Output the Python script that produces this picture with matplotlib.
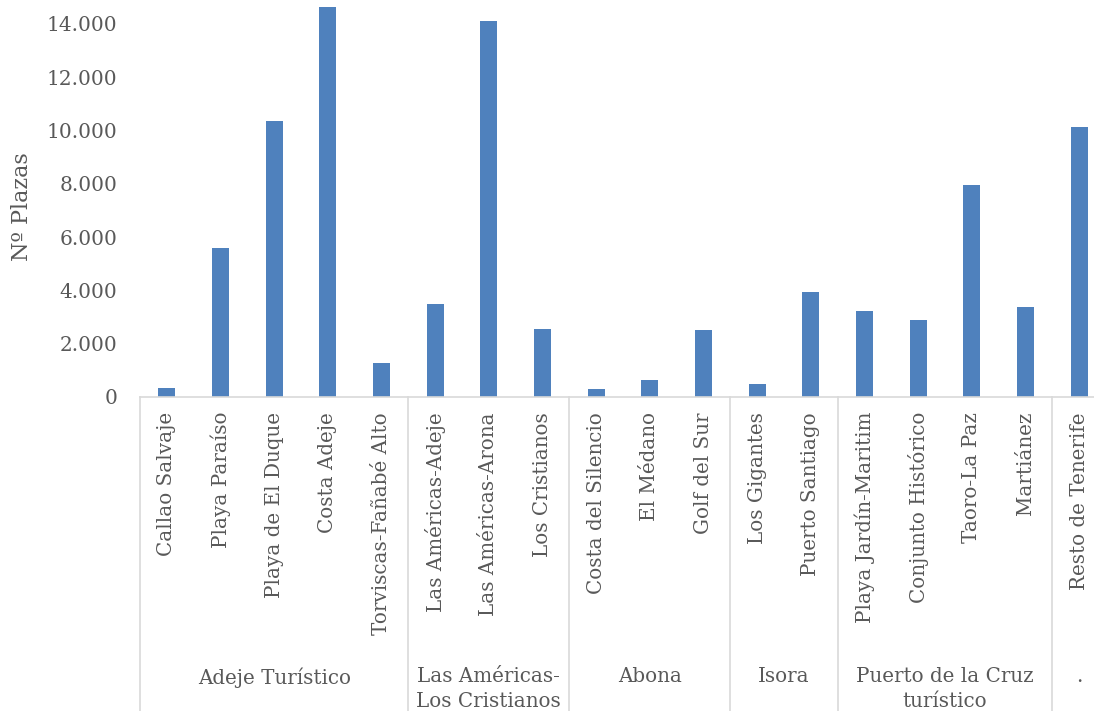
import matplotlib
matplotlib.use("Agg")
import matplotlib.pyplot as plt
from matplotlib.ticker import FuncFormatter
import matplotlib.transforms as mtransforms

plt.rcParams['font.family'] = ['DejaVu Serif']

# zonas y plazas
zonas = ['Callao Salvaje', 'Playa Paraíso', 'Playa de El Duque', 'Costa Adeje',
         'Torviscas-Fañabé Alto', 'Las Américas-Adeje', 'Las Américas-Arona',
         'Los Cristianos', 'Costa del Silencio', 'El Médano', 'Golf del Sur',
         'Los Gigantes', 'Puerto Santiago', 'Playa Jardín-Maritim',
         'Conjunto Histórico', 'Taoro-La Paz', 'Martiánez', 'Resto de Tenerife']
plazas = [350, 5600, 10360, 14630, 1290, 3480, 14110, 2540, 310, 640, 2500,
          490, 3940, 3230, 2900, 7950, 3370, 10150]

grupos = ['Adeje Turístico', 'Las Américas-\nLos Cristianos', 'Abona', 'Isora',
          'Puerto de la Cruz\nturístico', '.']
n_por_grupo = [5, 3, 3, 2, 4, 1]

gris = '#595959'
linea = '#d9d9d9'

fig = plt.figure(figsize=(10.94, 7.11), dpi=100)
W, H = 1094, 711
ax = fig.add_axes([140 / W, (H - 397) / H, 966 / W, 397 / H])

x = list(range(len(zonas)))
ax.bar(x, plazas, width=0.32, color='#4f81bd', edgecolor='none')

ax.set_xlim(-0.5, len(zonas) - 0.5)
ax.set_ylim(0, 14900)
ax.set_yticks(range(0, 14001, 2000))
ax.yaxis.set_major_formatter(FuncFormatter(lambda v, p: f'{int(v):,}'.replace(',', '.')))
ax.tick_params(axis='y', length=0, pad=16.5, labelsize=14.5, labelcolor=gris)
ax.set_xticks([])

for s in ['left', 'top', 'right']:
    ax.spines[s].set_visible(False)
ax.spines['bottom'].set_color(linea)
ax.spines['bottom'].set_linewidth(1.2)

fig.text(22 / W, 1 - 207 / H, 'Nº Plazas', rotation=90, ha='center', va='center',
         fontsize=16, color=gris)

trans = mtransforms.blended_transform_factory(ax.transData, fig.transFigure)

# etiquetas de zona
for xi, z in zip(x, zonas):
    ax.text(xi, 1 - 412 / H, z, rotation=90, ha='center', va='top',
            fontsize=14.3, color=gris, transform=trans, clip_on=False)

# grupos y separadores
inicio = 0
bordes = [-0.5]
for g, n in zip(grupos, n_por_grupo):
    centro = inicio + (n - 1) / 2
    ax.text(centro, 1 - 667 / H, g, ha='center', va='top', fontsize=14.3,
            color=gris, transform=trans, clip_on=False, linespacing=1.4)
    inicio += n
    bordes.append(inicio - 0.5)

for b in bordes:
    ax.plot([b, b], [0, (H - 397) / H], color=linea, linewidth=1.2,
            transform=trans, clip_on=False)

fig.savefig('out.png', dpi=100)
